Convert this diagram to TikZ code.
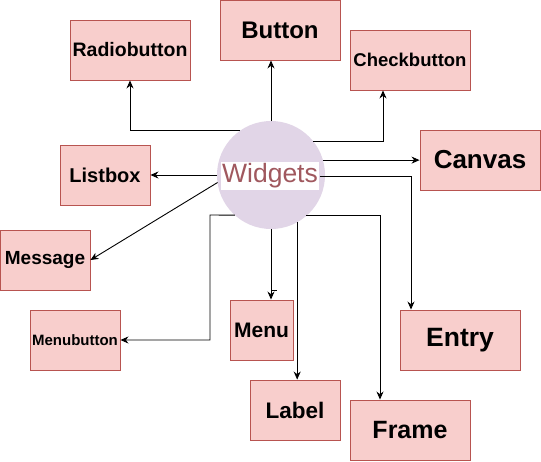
\documentclass[tikz,border=0pt]{standalone}
\usepackage{fontspec}
\setmainfont{Liberation Sans}
\usetikzlibrary{arrows.meta}
\definecolor{boxfill}{HTML}{F8CECC}
\definecolor{boxdraw}{HTML}{B85450}
\definecolor{circfill}{HTML}{E1D5E7}
\definecolor{wtext}{HTML}{A0585E}
\tikzset{
  wbox/.style={rectangle, draw=boxdraw, fill=boxfill, line width=0.9pt, inner sep=0pt, font=\bfseries},
  arr/.style={draw=black, line width=0.9pt, -{Stealth[length=8pt,width=7pt]}},
  fs/.style={font=\bfseries\fontsize{#1}{#1}\selectfont}
}
\begin{document}
\begin{tikzpicture}[x=1pt,y=-1pt]
\useasboundingbox (0,0) rectangle (541,461);
\fill[white] (0,0) rectangle (541,461);
% boxes
\node[wbox, minimum width=120pt, minimum height=60pt, fs=19.5] (R)  at (130,50)  {Radiobutton};
\node[wbox, minimum width=120pt, minimum height=60pt, fs=24]   (B)  at (280,30)  {Button};
\node[wbox, minimum width=120pt, minimum height=60pt, fs=18.5] (Cb) at (410,60)  {Checkbutton};
\node[wbox, minimum width=120pt, minimum height=60pt, fs=26]   (Cv) at (480,160) {Canvas};
\node[wbox, minimum width=90pt,  minimum height=60pt, fs=20]   (Lb) at (105,175) {Listbox};
\node[wbox, minimum width=90pt,  minimum height=60pt, fs=19]   (Ms) at (45,260)  {Message};
\node[wbox, minimum width=90pt,  minimum height=60pt, fs=15]   (Mb) at (75,340)  {Menubutton};
\node[wbox, minimum width=63pt,  minimum height=60pt, fs=21]   (Mn) at (261.5,330) {Menu};
\node[wbox, minimum width=90pt,  minimum height=60pt, fs=22.5] (L)  at (295,410) {Label};
\node[wbox, minimum width=120pt, minimum height=60pt, fs=25]   (F)  at (410,430) {Frame};
\node[wbox, minimum width=120pt, minimum height=60pt, fs=26.5] (E)  at (460,340) {Entry};
% central circle
\node[circle, fill=circfill, minimum size=108pt, inner sep=0pt, outer sep=0pt] (W) at (271,175) {};
\node[fill=white, inner sep=1.5pt, text=wtext, font=\fontsize{26.5}{26.5}\selectfont] (Wt) at (270,176) {Widgets};
% connectors
\coordinate (mbk) at (210,215);
\coordinate (tick) at (271,290);
\draw[arr] (W.125) -| (R.south);
\draw[arr] (W.north) -- (W.north |- B.south);
\draw[arr] (W.39) -| ([xshift=-27pt]Cb.south);
\draw[arr] (W.16) -- (W.16 -| Cv.west);
\draw[arr] (Wt.east) -| ([xshift=-49pt]E.north);
\draw[arr] (W.-49) -| ([xshift=-30pt]F.north);
\draw[arr] (W.-61) -- (W.-61 |- L.north);
\draw[arr] (W.south) -- (W.south |- Mn.north);
\draw[line width=0.7pt] (tick) -- ++(6,0);
\draw[arr] (W.228) -- (mbk) |- (Mb.east);
\draw[arr] (W.west) -- (Lb.east);
\draw[arr] (W.188) -- (Ms.east);
\end{tikzpicture}
\end{document}
